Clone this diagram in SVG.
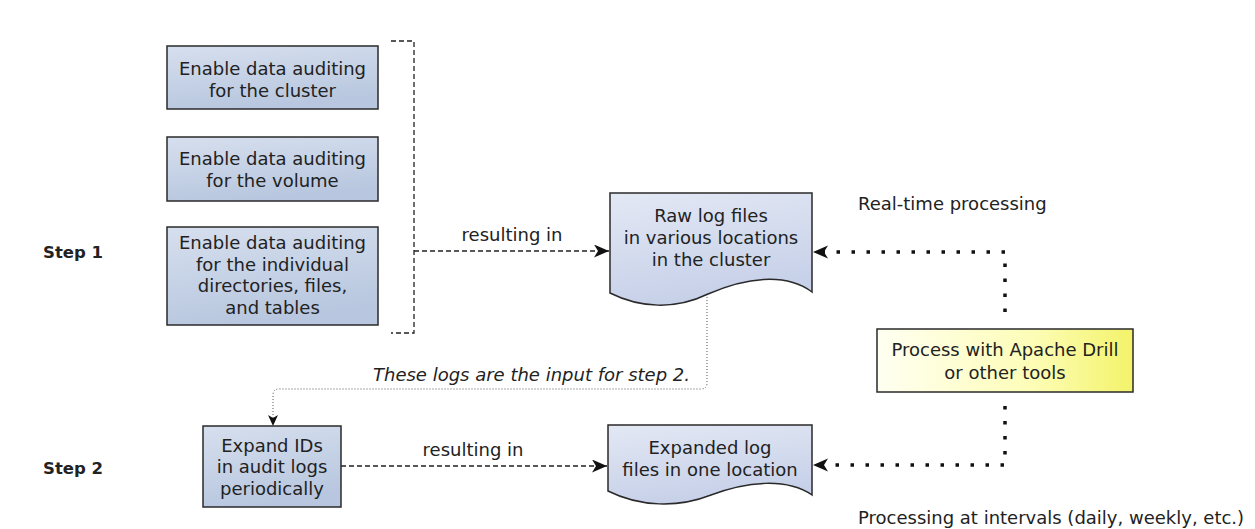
<svg xmlns="http://www.w3.org/2000/svg" width="1255" height="529" viewBox="0 0 1255 529">
  <defs>
    <linearGradient id="gBox" x1="0" y1="0" x2="0.3" y2="1">
      <stop offset="0" stop-color="#d6dfee"/>
      <stop offset="1" stop-color="#b8c7df"/>
    </linearGradient>
    <linearGradient id="gDoc" x1="0" y1="0" x2="0.3" y2="1">
      <stop offset="0" stop-color="#e3e8f4"/>
      <stop offset="1" stop-color="#c6d0e8"/>
    </linearGradient>
    <linearGradient id="gNote" x1="0" y1="0" x2="1" y2="0">
      <stop offset="0" stop-color="#fffff2"/>
      <stop offset="0.6" stop-color="#fdfdb8"/>
      <stop offset="1" stop-color="#f3f36a"/>
    </linearGradient>
    <marker id="head" markerUnits="userSpaceOnUse" markerWidth="16" markerHeight="14" refX="15" refY="6.5" orient="auto">
      <path d="M0,0 L15,6.5 L0,13 L4,6.5 Z" fill="#111"/>
    </marker>
    <marker id="headSmall" markerUnits="userSpaceOnUse" markerWidth="12" markerHeight="12" refX="11" refY="5" orient="auto">
      <path d="M0,0 L11,5 L0,10 L3,5 Z" fill="#111"/>
    </marker>
    <style>
      .box { fill: url(#gBox); stroke: #2a2a2a; stroke-width: 1.5; }
      .doc { fill: url(#gDoc); stroke: #2a2a2a; stroke-width: 1.5; }
      .note { fill: url(#gNote); stroke: #2a2a2a; stroke-width: 1.5; }
      text { font-family: "DejaVu Sans", Verdana, sans-serif; font-size: 18px; fill: #222; }
      .c { text-anchor: middle; }
      .step { font-weight: bold; font-size: 16.5px; }
      .it { font-style: italic; }
      .dash { fill: none; stroke: #222; stroke-width: 1.3; stroke-dasharray: 5 3; }
      .dots { fill: none; stroke: #111; stroke-width: 3.5; stroke-dasharray: 3.5 11.5; }
      .fine { fill: none; stroke: #555; stroke-width: 1; stroke-dasharray: 1 2; }
    </style>
  </defs>

  <rect width="1255" height="529" fill="#ffffff"/>

  <!-- row labels -->
  <text class="step" x="43" y="258">Step 1</text>
  <text class="step" x="43" y="474">Step 2</text>

  <!-- connectors -->
  <g id="connectors">
    <!-- bracket grouping the three audit settings -->
    <path class="dash" d="M391,41 H414 V333 H391"/>
    <path class="dash" d="M414,251 H609" marker-end="url(#head)"/>
    <text class="c" x="512" y="241">resulting in</text>

    <path class="fine" d="M707,294 V383 Q707,389 701,389 H279 Q273,389 273,395 V426" marker-end="url(#headSmall)"/>
    <text class="it" x="690" y="381" text-anchor="end">These logs are the input for step 2.</text>

    <path class="dash" d="M341,466 H607" marker-end="url(#head)"/>
    <text class="c" x="473" y="456">resulting in</text>

    <path class="dots" d="M1005,312 V252 H813" marker-end="url(#head)"/>
    <path class="dots" d="M1005,406 V465 H813" marker-end="url(#head)"/>
    <text x="858" y="210">Real-time processing</text>
    <text x="858" y="524">Processing at intervals (daily, weekly, etc.)</text>
  </g>

  <g id="cluster">
    <rect class="box" x="167" y="46" width="211" height="63"/>
    <text class="c" x="272.5" y="75">Enable data auditing</text>
    <text class="c" x="272.5" y="97">for the cluster</text>
  </g>

  <g id="volume">
    <rect class="box" x="167" y="137" width="211" height="64"/>
    <text class="c" x="272.5" y="165">Enable data auditing</text>
    <text class="c" x="272.5" y="187">for the volume</text>
  </g>

  <g id="objects">
    <rect class="box" x="167" y="227" width="211" height="98"/>
    <text class="c" x="272.5" y="249">Enable data auditing</text>
    <text class="c" x="272.5" y="270.5">for the individual</text>
    <text class="c" x="272.5" y="292">directories, files,</text>
    <text class="c" x="272.5" y="313.5">and tables</text>
  </g>

  <g id="raw-logs">
    <path class="doc" d="M610,193 H812 V292 C785,272 745,278 708,294 C675,310 640,308 610,293 Z"/>
    <text class="c" x="711" y="222">Raw log files</text>
    <text class="c" x="711" y="244">in various locations</text>
    <text class="c" x="711" y="266">in the cluster</text>
  </g>

  <g id="expand-ids">
    <rect class="box" x="203" y="426" width="138" height="81"/>
    <text class="c" x="272" y="452">Expand IDs</text>
    <text class="c" x="272" y="473">in audit logs</text>
    <text class="c" x="272" y="495">periodically</text>
  </g>

  <g id="expanded-logs">
    <path class="doc" d="M608,425 H812 V495 C787,478 748,481 711,495 C678,508 640,507 608,491 Z"/>
    <text class="c" x="710" y="454">Expanded log</text>
    <text class="c" x="710" y="476">files in one location</text>
  </g>

  <g id="processing">
    <rect class="note" x="877" y="329" width="256" height="63"/>
    <text class="c" x="1005" y="356">Process with Apache Drill</text>
    <text class="c" x="1005" y="378.5">or other tools</text>
  </g>
</svg>
